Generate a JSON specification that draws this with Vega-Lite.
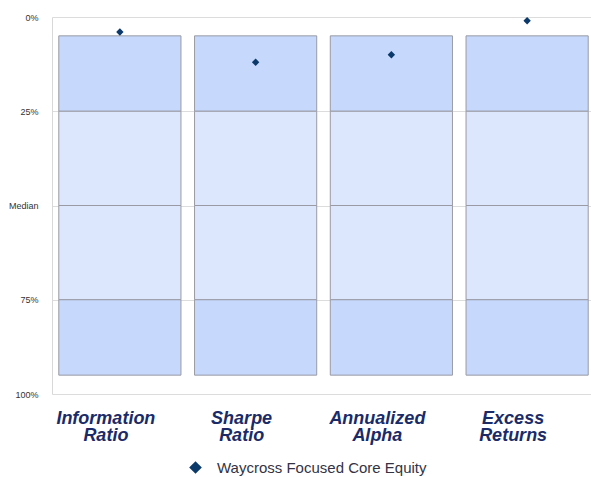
{
  "$schema": "https://vega.github.io/schema/vega-lite/v6.json",
  "width": 543,
  "height": 377,
  "autosize": "none",
  "padding": {"left": 52, "top": 17, "right": 0, "bottom": 83},
  "background": "white",
  "config": {"view": {"stroke": null}, "font": "Liberation Sans"},
  "resolve": {"scale": {"color": "independent"}},
  "datasets": {
    "bands": [
      {"metric": "Information Ratio", "start": 5, "end": 25, "segment": "outer"},
      {"metric": "Information Ratio", "start": 25, "end": 50, "segment": "inner"},
      {"metric": "Information Ratio", "start": 50, "end": 75, "segment": "inner"},
      {"metric": "Information Ratio", "start": 75, "end": 95, "segment": "outer"},
      {"metric": "Sharpe Ratio", "start": 5, "end": 25, "segment": "outer"},
      {"metric": "Sharpe Ratio", "start": 25, "end": 50, "segment": "inner"},
      {"metric": "Sharpe Ratio", "start": 50, "end": 75, "segment": "inner"},
      {"metric": "Sharpe Ratio", "start": 75, "end": 95, "segment": "outer"},
      {"metric": "Annualized Alpha", "start": 5, "end": 25, "segment": "outer"},
      {"metric": "Annualized Alpha", "start": 25, "end": 50, "segment": "inner"},
      {"metric": "Annualized Alpha", "start": 50, "end": 75, "segment": "inner"},
      {"metric": "Annualized Alpha", "start": 75, "end": 95, "segment": "outer"},
      {"metric": "Excess Returns", "start": 5, "end": 25, "segment": "outer"},
      {"metric": "Excess Returns", "start": 25, "end": 50, "segment": "inner"},
      {"metric": "Excess Returns", "start": 50, "end": 75, "segment": "inner"},
      {"metric": "Excess Returns", "start": 75, "end": 95, "segment": "outer"}
    ],
    "points": [
      {"metric": "Information Ratio", "percentile": 4, "fund": "Waycross Focused Core Equity"},
      {"metric": "Sharpe Ratio", "percentile": 12, "fund": "Waycross Focused Core Equity"},
      {"metric": "Annualized Alpha", "percentile": 10, "fund": "Waycross Focused Core Equity"},
      {"metric": "Excess Returns", "percentile": 1, "fund": "Waycross Focused Core Equity"}
    ]
  },
  "layer": [
    {
      "data": {"name": "bands"},
      "mark": {"type": "bar", "stroke": "#9a9aa4", "strokeWidth": 1},
      "encoding": {
        "x": {
          "field": "metric", "type": "nominal",
          "sort": ["Information Ratio", "Sharpe Ratio", "Annualized Alpha", "Excess Returns"],
          "scale": {"paddingInner": 0.1, "paddingOuter": 0.05},
          "axis": {
            "title": null, "labelAngle": 0, "ticks": false, "domain": false,
            "labelExpr": "split(datum.label, ' ')",
            "labelFontSize": 18, "labelFontWeight": "bold", "labelFontStyle": "italic",
            "labelColor": "#1a2b68", "labelPadding": 15, "labelLineHeight": 17,
            "labelOffset": -14
          }
        },
        "y": {
          "field": "start", "type": "quantitative",
          "scale": {"domain": [0, 100], "reverse": true, "nice": false},
          "axis": {
            "title": null, "values": [0, 25, 50, 75, 100],
            "labelExpr": "datum.value == 50 ? 'Median' : datum.value + '%'",
            "grid": true, "gridColor": "#dcdcdc", "domainColor": "#d8d8d8",
            "ticks": false, "labelPadding": 14, "labelFontSize": 9, "labelColor": "#333333"
          }
        },
        "y2": {"field": "end"},
        "color": {
          "field": "segment", "type": "nominal",
          "scale": {"domain": ["outer", "inner"], "range": ["#c6d9fd", "#dce6fd"]},
          "legend": null
        }
      }
    },
    {
      "data": {"name": "points"},
      "mark": {"type": "point", "shape": "diamond", "filled": true, "size": 55, "opacity": 1},
      "encoding": {
        "x": {"field": "metric", "type": "nominal", "sort": ["Information Ratio", "Sharpe Ratio", "Annualized Alpha", "Excess Returns"]},
        "y": {"field": "percentile", "type": "quantitative"},
        "color": {
          "field": "fund", "type": "nominal",
          "scale": {"range": ["#0b3a6a"]},
          "legend": {
            "title": null, "orient": "none", "legendX": 136, "legendY": 443,
            "symbolType": "diamond", "symbolSize": 160, "labelFontSize": 15,
            "labelLimit": 400, "labelOffset": 14,
            "labelColor": "#333344", "symbolOpacity": 1
          }
        }
      }
    }
  ]
}
